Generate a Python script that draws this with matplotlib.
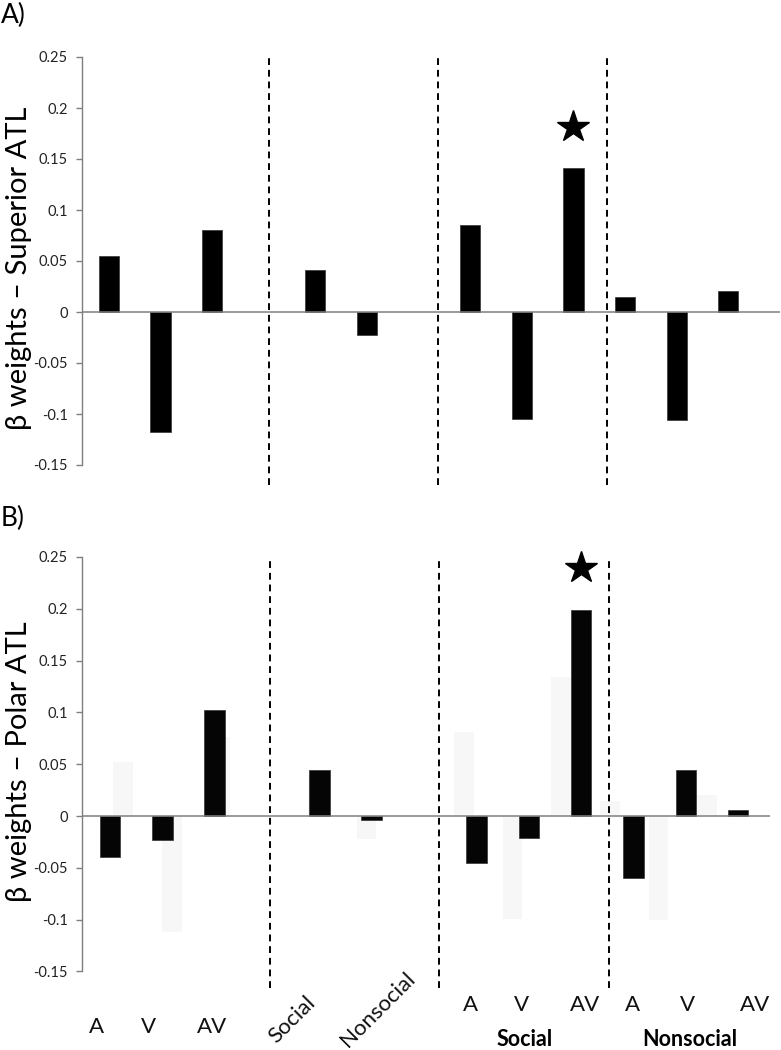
import numpy as np
import matplotlib
matplotlib.use("Agg")
import matplotlib.pyplot as plt

plt.rcParams['font.family'] = ['Lato', 'DejaVu Sans']

## data
conditions = ["A", "V", "AV", "Social", "Nonsocial",
              "A", "V", "AV", "A", "V", "AV"]
slots = [0, 1, 2, 4, 5, 7, 8, 9, 10, 11, 12]
superior_atl = [0.055, -0.118, 0.080, 0.041, -0.023,
                0.085, -0.105, 0.141, 0.015, -0.106, 0.021]
polar_atl = [-0.040, -0.023, 0.102, 0.044, -0.004,
             -0.045, -0.021, 0.199, -0.060, 0.044, 0.0055]
group_names = ["Social", "Nonsocial"]
yticks = [-0.15, -0.1, -0.05, 0, 0.05, 0.1, 0.15, 0.2, 0.25]
ytick_labels = ["-0.15", "-0.1", "-0.05", "0", "0.05", "0.1", "0.15", "0.2", "0.25"]
star_a = (9, 0.181)
star_b = (9, 0.239)

W, H = 781, 1050
fig = plt.figure(figsize=(W / 100, H / 100), dpi=100)

def px_axes(left, right, top, bottom):
    return fig.add_axes([left / W, 1 - bottom / H, (right - left) / W, (bottom - top) / H])

axA = px_axes(82, 780, 57, 465)
axB = px_axes(82, 770, 557, 971.4)

def style(ax, xlim, seps, sep_low):
    ax.set_xlim(*xlim)
    ax.set_ylim(-0.15, 0.25)
    for s in ["top", "right", "bottom"]:
        ax.spines[s].set_visible(False)
    ax.spines["left"].set_color("#7f7f7f")
    ax.spines["left"].set_linewidth(1.0)
    ax.set_xticks([])
    ax.set_yticks(yticks)
    ax.set_yticklabels(ytick_labels, fontsize=10.5, color="#222222")
    ax.tick_params(axis="y", length=4, width=1, color="#7f7f7f", pad=6)
    ax.axhline(0, color="#7f7f7f", lw=1.1, zorder=3)
    for s in seps:
        ax.plot([s, s], [sep_low, 0.25], color="black", lw=1.4,
                linestyle=(0, (3.5, 2.5)), clip_on=False, zorder=4)

# faint ghost of panel A showing through panel B (as in the scanned figure)
ghost_x = 0.25 + 0.93 * np.array(slots)
axB.bar(ghost_x, np.array(superior_atl) * 0.95, width=0.38, color="#f7f7f7", zorder=1)

style(axA, (-0.52, 13.0), [3.10, 6.38, 9.65], -0.1696)
style(axB, (-0.535, 12.61), [3.05, 6.29, 9.53], -0.166)

axA.bar(slots, superior_atl, width=0.39, color="black", edgecolor="#333333", lw=0.5, zorder=2)
axB.bar(slots, polar_atl, width=0.39, color="#050505", edgecolor="#333333", lw=0.5, zorder=2)

axA.plot(*star_a, marker="*", ms=24, color="black", clip_on=False, zorder=5)
axB.plot(*star_b, marker="*", ms=24, color="black", clip_on=False, zorder=5)

# panel letters and y labels
fig.text(1 / W, 1 - 3 / H, "A)", fontsize=19, va="top", ha="left")
fig.text(1 / W, 1 - 506 / H, "B)", fontsize=19, va="top", ha="left")
fig.text(19 / W, 1 - 268 / H, "β weights – Superior ATL", fontsize=21,
         rotation=90, va="center", ha="center")
fig.text(19 / W, 1 - 762 / H, "β weights – Polar ATL", fontsize=21,
         rotation=90, va="center", ha="center")

# category labels under panel B
label_x = [-0.26, 0.745, 1.95, 3.48, 5.12, 6.88, 7.87, 9.08, 9.98, 11.03, 12.33]
label_y = [-0.134, -0.134, -0.134, -0.117, -0.093,
           -0.081, -0.081, -0.081, -0.081, -0.081, -0.081]
trans = axB.get_xaxis_transform()
for i, (lab, x, y) in enumerate(zip(conditions, label_x, label_y)):
    rot = 45 if lab in group_names else 0
    axB.text(x, y, lab, transform=trans, fontsize=16, rotation=rot,
             ha="center", va="center", rotation_mode="anchor", color="#111111")
for lab, x in zip(group_names, [7.93, 11.08]):
    axB.text(x, -0.165, lab, transform=trans, fontsize=15.5, fontweight="bold",
             ha="center", va="center")

fig.savefig("out.png", dpi=100)
